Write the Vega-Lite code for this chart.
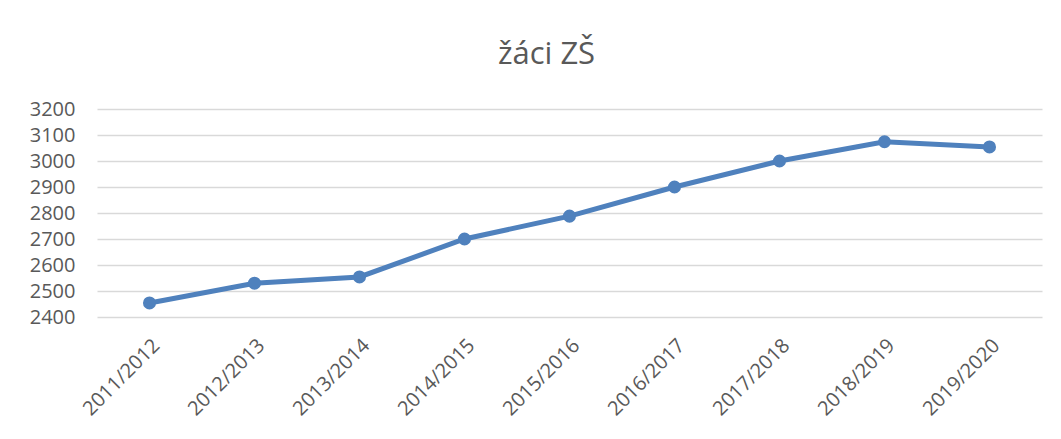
{
  "$schema": "https://vega.github.io/schema/vega-lite/v6.json",
  "autosize": "none",
  "width": 945,
  "height": 208,
  "padding": {"left": 97, "top": 109, "right": 19, "bottom": 122},
  "background": "white",
  "title": {
    "text": "žáci ZŠ",
    "font": "Open Sans",
    "fontSize": 31,
    "fontWeight": "normal",
    "color": "#595959",
    "anchor": "middle",
    "dx": -23,
    "offset": 28
  },
  "config": {"view": {"stroke": null}},
  "data": {
    "values": [
      {"rok": "2011/2012", "zaci": 2454},
      {"rok": "2012/2013", "zaci": 2530},
      {"rok": "2013/2014", "zaci": 2554},
      {"rok": "2014/2015", "zaci": 2700},
      {"rok": "2015/2016", "zaci": 2788},
      {"rok": "2016/2017", "zaci": 2900},
      {"rok": "2017/2018", "zaci": 3000},
      {"rok": "2018/2019", "zaci": 3074},
      {"rok": "2019/2020", "zaci": 3054}
    ]
  },
  "encoding": {
    "x": {
      "field": "rok",
      "type": "ordinal",
      "sort": null,
      "scale": {"type": "band", "paddingInner": 0, "paddingOuter": 0},
      "axis": {
        "title": null,
        "labelAngle": -45,
        "labelFont": "Open Sans",
        "labelFontSize": 20,
        "labelColor": "#595959",
        "labelPadding": 18,
        "labelOverlap": false,
        "ticks": false,
        "domain": false,
        "grid": false
      }
    },
    "y": {
      "field": "zaci",
      "type": "quantitative",
      "scale": {"domain": [2400, 3200], "nice": false, "zero": false},
      "axis": {
        "title": null,
        "values": [2400, 2500, 2600, 2700, 2800, 2900, 3000, 3100, 3200],
        "format": "d",
        "labelFont": "Open Sans",
        "labelFontSize": 20,
        "labelColor": "#595959",
        "labelPadding": 22,
        "ticks": false,
        "domain": false,
        "grid": true,
        "gridColor": "#d9d9d9",
        "gridWidth": 1.3
      }
    }
  },
  "layer": [
    {"mark": {"type": "line", "color": "#4f81bd", "strokeWidth": 5}},
    {"mark": {"type": "point", "filled": true, "color": "#4f81bd", "opacity": 1, "size": 170}}
  ]
}
